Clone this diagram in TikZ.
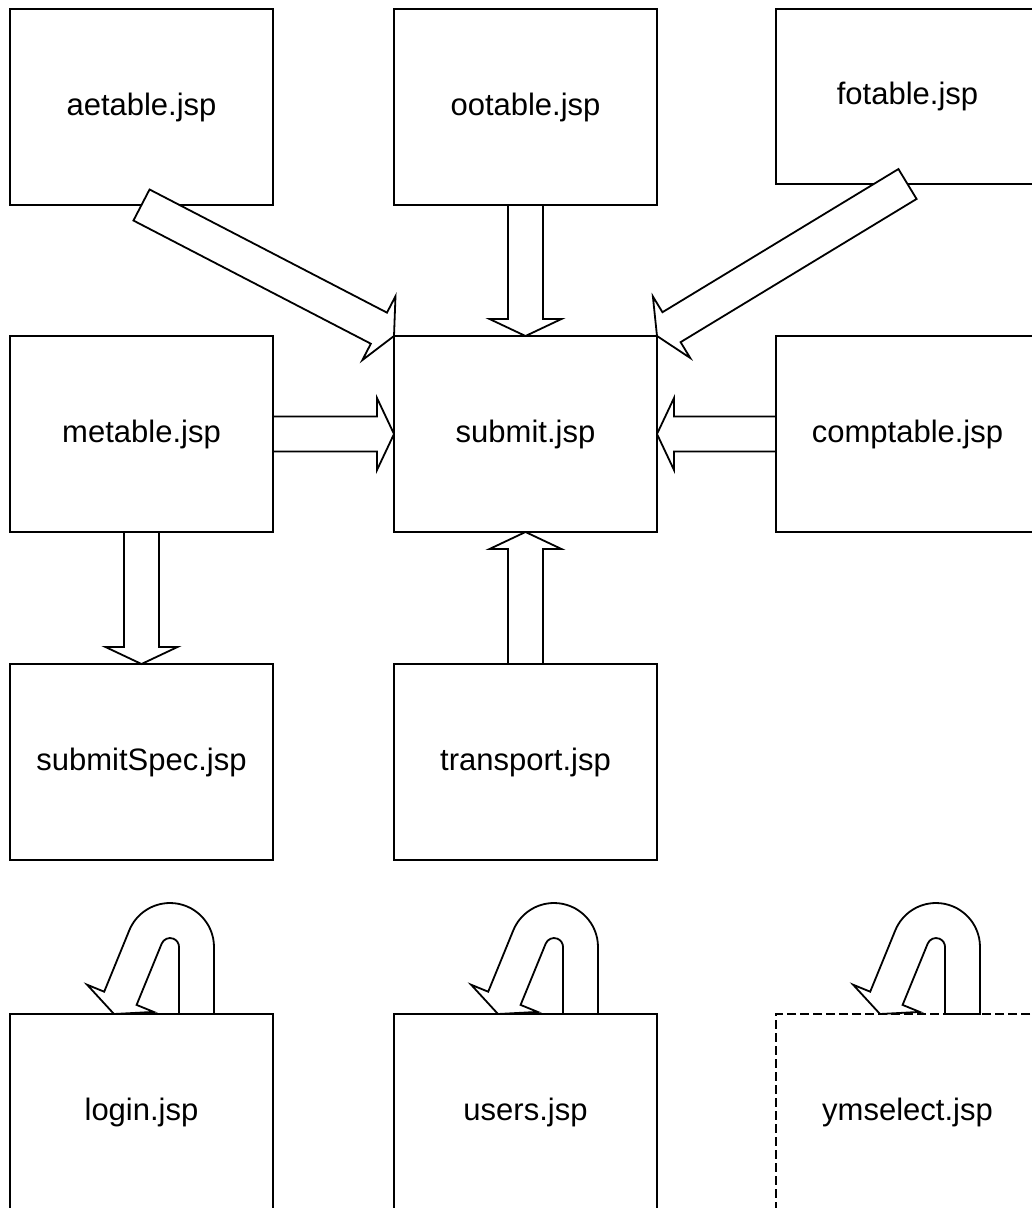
\documentclass[tikz,border=0pt]{standalone}
\usepackage{fontspec}
\setmainfont{Liberation Sans}
\usetikzlibrary{calc}
\tikzset{
  box/.style={draw, fill=white, line width=2pt, minimum width=263pt, minimum height=196pt,
    inner sep=0pt, outer sep=0pt, font=\fontsize{31}{37}\selectfont},
  dashbox/.style={box, dash pattern=on 9pt off 4pt},
  fat/.style={draw, fill=white, line width=1.8pt, line join=miter},
}
\newcommand\fatarrow[2]{%
  \coordinate (fa-h) at ($(#2)!17pt!(#1)$);
  \draw[fat] ($(#1)!17.5pt!90:(#2)$) -- ($(fa-h)!17.5pt!-90:(#1)$)
     -- ($(fa-h)!36pt!-90:(#1)$) -- (#2) -- ($(fa-h)!36pt!90:(#1)$)
     -- ($(fa-h)!17.5pt!90:(#1)$) -- ($(#1)!17.5pt!-90:(#2)$) -- cycle;
}
\newcommand\selfloop[1]{%
  \draw[fat, shift={(#1.north)}] (-27.5,0) -- (12.2,-2.1) -- (-4.9,-9.1) -- (20.2,-70.4)
    arc[start angle=202.3, end angle=360, radius=9] -- (37.5,0) -- (72.5,0) -- (72.5,-67)
    arc[start angle=360, end angle=202.3, radius=44] -- (-37.3,-22.3) -- (-54.4,-29.3) -- cycle;
}
\begin{document}
\begin{tikzpicture}[x=1pt,y=-1pt]
\useasboundingbox (0,0) rectangle (1032,1208);
\clip (0,0) rectangle (1032,1208);
\fill[white] (0,0) rectangle (1032,1208);
\node[box] (aetable) at (141.5,107) {aetable.jsp};
\node[box] (ootable) at (525.5,107) {ootable.jsp};
\node[box, minimum height=175pt] (fotable) at (907.5,96.5) {fotable.jsp};
\node[box] (metable) at (141.5,434) {metable.jsp};
\node[box] (submit) at (525.5,434) {submit.jsp};
\node[box] (comptable) at (907.5,434) {comptable.jsp};
\node[box] (submitSpec) at (141.5,762) {submitSpec.jsp};
\node[box] (transport) at (525.5,762) {transport.jsp};
\node[box] (login) at (141.5,1112) {login.jsp};
\node[box] (users) at (525.5,1112) {users.jsp};
\node[dashbox] (ymselect) at (907.5,1112) {ymselect.jsp};
\fatarrow{aetable.south}{submit.north west}
\fatarrow{ootable.south}{submit.north}
\fatarrow{fotable.south}{submit.north east}
\fatarrow{metable.east}{submit.west}
\fatarrow{comptable.west}{submit.east}
\fatarrow{transport.north}{submit.south}
\fatarrow{metable.south}{submitSpec.north}
\selfloop{login}
\selfloop{users}
\selfloop{ymselect}
\draw[line width=2pt] (submit.north west) rectangle (submit.south east);
\end{tikzpicture}
\end{document}
